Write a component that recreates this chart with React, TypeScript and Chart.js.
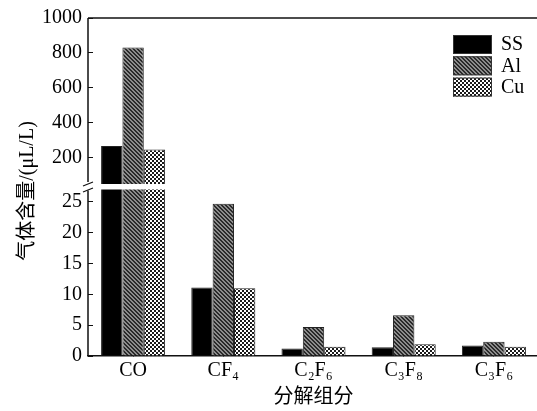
import React, { useEffect, useRef } from 'react';
import { Chart, registerables } from 'chart.js';

Chart.register(...registerables);

const categories = ['CO', 'CF₄', 'C₂F₆', 'C₃F₈', 'C₃F₆'];
const seriesNames = ['SS', 'Al', 'Cu'];
const ssValues = [268, 11.1, 1.2, 1.4, 1.7];
const alValues = [831, 24.7, 4.7, 6.6, 2.3];
const cuValues = [248, 11.0, 1.5, 1.9, 1.5];
const upperTicks = [200, 400, 600, 800, 1000];
const lowerTicks = [0, 5, 10, 15, 20, 25];
const upperMin = 50;
const upperMax = 1000;
const lowerMin = 0;
const lowerMax = 27.9;
const lowerCut = 27;
const yTitle = '气体含量/(μL/L)';
const xTitle = '分解组分';

const FONT = "'Liberation Serif', 'Noto Sans CJK SC', serif";
const INK = '#111';

function makePattern(kind: string): CanvasPattern | string {
  const c = document.createElement('canvas');
  c.width = 4;
  c.height = 4;
  const g = c.getContext('2d')!;
  if (kind === 'hatch') {
    g.fillStyle = '#8c8c8c';
    g.fillRect(0, 0, 4, 4);
    g.fillStyle = '#2a2a2a';
    for (let i = 0; i < 4; i++) {
      g.fillRect(i, i, 1, 1);
      g.fillRect((i + 1) % 4, i, 1, 1);
    }
  } else if (kind === 'check') {
    g.fillStyle = '#ffffff';
    g.fillRect(0, 0, 4, 4);
    g.fillStyle = '#1a1a1a';
    g.fillRect(0, 0, 2, 2);
    g.fillRect(2, 2, 2, 2);
  } else {
    return '#000000';
  }
  return g.createPattern(c, 'repeat')!;
}

const breakPlugin = {
  id: 'breakAxis',
  beforeDatasetDraw(chart: any, args: any) {
    const ds = chart.data.datasets[args.index];
    const s = chart.scales[ds.yAxisID];
    const { left, right } = chart.chartArea;
    const top = ds.yAxisID === 'yBot' ? s.getPixelForValue(lowerCut) : s.top;
    const ctx = chart.ctx;
    ctx.save();
    ctx.beginPath();
    ctx.rect(left, top, right - left, s.bottom - top);
    ctx.clip();
  },
  afterDatasetDraw(chart: any) {
    chart.ctx.restore();
  },
  afterDraw(chart: any) {
    const ctx = chart.ctx;
    const { left, right, top, bottom } = chart.chartArea;
    const yTop = chart.scales.yTop;
    const yBot = chart.scales.yBot;
    const cut = yBot.getPixelForValue(lowerCut);
    ctx.save();
    ctx.strokeStyle = INK;
    ctx.lineWidth = 1.5;
    ctx.beginPath();
    ctx.moveTo(left, top);
    ctx.lineTo(right, top);
    ctx.stroke();
    ctx.beginPath();
    ctx.moveTo(left, top);
    ctx.lineTo(left, yTop.bottom - 2);
    ctx.moveTo(left, cut + 1);
    ctx.lineTo(left, bottom);
    ctx.stroke();
    ctx.lineWidth = 1.2;
    ctx.beginPath();
    ctx.moveTo(left - 5, yTop.bottom + 2);
    ctx.lineTo(left + 5, yTop.bottom - 2);
    ctx.moveTo(left - 5, cut + 2.5);
    ctx.lineTo(left + 5, cut - 1.5);
    ctx.stroke();
    ctx.fillStyle = '#000';
    ctx.font = '20px ' + FONT;
    ctx.textAlign = 'center';
    ctx.textBaseline = 'middle';
    ctx.translate(28, (top + bottom) / 2 + 4);
    ctx.rotate(-Math.PI / 2);
    ctx.fillText(yTitle, 0, 0);
    ctx.restore();
    ctx.save();
    const sx = right - 86;
    for (let i = 0; i < 3; i++) {
      const ds = chart.data.datasets[i];
      const y = top + 17 + i * 21.3;
      ctx.fillStyle = ds.backgroundColor;
      ctx.fillRect(sx, y, 39, 19);
      ctx.strokeStyle = '#333';
      ctx.lineWidth = 1;
      ctx.strokeRect(sx + 0.5, y + 0.5, 38, 18);
      ctx.fillStyle = '#000';
      ctx.font = '20px ' + FONT;
      ctx.textAlign = 'left';
      ctx.textBaseline = 'middle';
      ctx.fillText(ds.label, sx + 48, y + 10);
    }
    ctx.restore();
  },
};

export default function App() {
  const ref = useRef<HTMLCanvasElement>(null);
  useEffect(() => {
    if (!ref.current) return;
    const fills = [makePattern('solid'), makePattern('hatch'), makePattern('check')];
    const valuesList = [ssValues, alValues, cuValues];
    const mk = (axis: string) =>
      seriesNames.map((name, i) => ({
        label: name,
        data: valuesList[i],
        yAxisID: axis,
        stack: name,
        backgroundColor: fills[i],
        borderColor: '#222',
        borderWidth: 1,
        categoryPercentage: 0.71,
        barPercentage: 1,
      }));
    const yTicks = {
      color: '#000',
      font: { family: FONT, size: 20 },
      padding: 11,
      autoSkip: false,
      callback: (v: any) => String(v),
    };
    const fitY = (s: any) => {
      s.width = 88;
      s.paddingTop = 0;
      s.paddingBottom = 0;
    };
    const chart = new Chart(ref.current, {
      type: 'bar',
      data: {
        labels: categories,
        datasets: [...mk('yBot'), ...mk('yTop')],
      },
      options: {
        animation: false,
        responsive: false,
        devicePixelRatio: 1,
        layout: { padding: { left: 0, top: 18, right: 0, bottom: 0 } },
        plugins: { legend: { display: false }, tooltip: { enabled: false } },
        scales: {
          x: {
            type: 'category',
            position: 'bottom',
            offset: true,
            z: 1,
            grid: { display: true, drawOnChartArea: false, offset: false, tickLength: -5, color: INK, lineWidth: 1 },
            border: { display: true, color: INK, width: 1.5 },
            ticks: { color: '#000', font: { family: FONT, size: 20 }, padding: 8, maxRotation: 0, autoSkip: false },
            title: { display: true, text: xTitle, color: '#000', font: { family: FONT, size: 20 }, padding: { top: 0, bottom: 1 } },
            afterFit: (s: any) => {
              s.height = 55;
              s.paddingLeft = 0;
              s.paddingRight = 0;
            },
          },
          yBot: {
            type: 'linear',
            position: 'left',
            stack: 'v',
            stackWeight: 172,
            weight: 0,
            stacked: false,
            beginAtZero: false,
            min: lowerMin,
            max: lowerMax,
            afterBuildTicks: (s: any) => { s.ticks = lowerTicks.map((v) => ({ value: v })); },
            grid: { display: true, drawOnChartArea: false, tickLength: -5, color: INK, lineWidth: 1 },
            border: { display: false },
            ticks: yTicks,
            afterFit: fitY,
          },
          yTop: {
            type: 'linear',
            position: 'left',
            stack: 'v',
            stackWeight: 166,
            weight: 1,
            stacked: false,
            beginAtZero: false,
            min: upperMin,
            max: upperMax,
            afterBuildTicks: (s: any) => { s.ticks = upperTicks.map((v) => ({ value: v })); },
            grid: { display: true, drawOnChartArea: false, tickLength: -5, color: INK, lineWidth: 1 },
            border: { display: false },
            ticks: yTicks,
            afterFit: fitY,
          },
        },
      } as any,
      plugins: [breakPlugin],
    });
    return () => chart.destroy();
  }, []);
  return (
    <div style={{ position: 'fixed', left: 0, top: 0, width: 537, height: 411, overflow: 'hidden', background: '#fff' }}>
      <canvas ref={ref} width={539} height={411} style={{ width: 539, height: 411, display: 'block' }} />
    </div>
  );
}
